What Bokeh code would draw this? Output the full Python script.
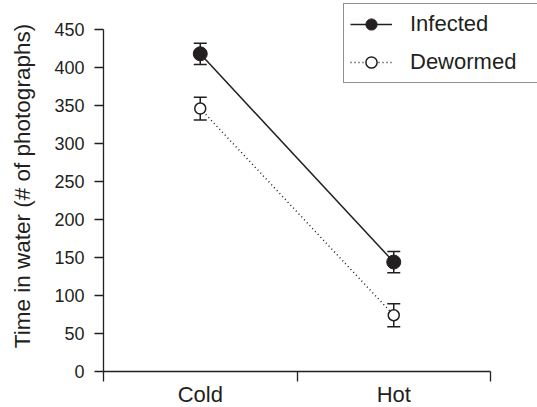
from bokeh.plotting import figure
from bokeh.models import (FixedTicker, Legend, LegendItem, Whisker, TeeHead,
                          ColumnDataSource, Range1d)
from bokeh.embed import file_html
from bokeh.resources import INLINE

# ---- data ----
categories = ["Cold", "Hot"]
series_names = ["Infected", "Dewormed"]
infected = [418, 144]
infected_err = [14, 14]
dewormed = [346, 74]
dewormed_err = [15, 15]
y_ticks = [0, 50, 100, 150, 200, 250, 300, 350, 400, 450]
y_label = "Time in water (# of photographs)"

INK = "#231f20"
FONT = "Liberation Sans"

x = [i + 0.5 for i in range(len(categories))]
bounds = list(range(len(categories) + 1))

# layout: axes occupy 387 x 342 px; the frame is extended to the right and
# top so the legend can sit where it does in the reference
AX_W, AX_H = 387, 342
FR_W, FR_H = 434, 371
x_end = len(categories) * FR_W / AX_W
y_end = y_ticks[-1] * FR_H / AX_H

p = figure(frame_width=FR_W, frame_height=FR_H,
           min_border_left=103, min_border_right=0,
           min_border_top=0, min_border_bottom=36,
           x_range=Range1d(0, x_end),
           y_range=Range1d(y_ticks[0], y_end),
           output_backend="svg", toolbar_location=None)
p.xgrid.visible = False
p.ygrid.visible = False
p.outline_line_color = None
p.background_fill_color = "white"
p.border_fill_color = "white"


def make_source(vals, errs):
    return ColumnDataSource(dict(
        x=x, y=vals,
        upper=[v + e for v, e in zip(vals, errs)],
        lower=[v - e for v, e in zip(vals, errs)]))


src_inf = make_source(infected, infected_err)
src_dew = make_source(dewormed, dewormed_err)

for src in (src_inf, src_dew):
    w = Whisker(base="x", upper="upper", lower="lower", source=src,
                dimension="height", line_color=INK, line_width=1.5,
                upper_head=TeeHead(size=13, line_color=INK, line_width=1.5),
                lower_head=TeeHead(size=13, line_color=INK, line_width=1.5),
                level="underlay")
    p.add_layout(w)

r_inf_line = p.line("x", "y", source=src_inf, line_color=INK, line_width=1.5)
r_dew_line = p.line("x", "y", source=src_dew, line_color=INK, line_width=1.5,
                    line_dash="1 3")
r_inf_pts = p.scatter("x", "y", source=src_inf, marker="circle", size=14,
                      fill_color=INK, line_color=INK, line_width=1)
r_dew_pts = p.scatter("x", "y", source=src_dew, marker="circle", size=11,
                      fill_color="white", line_color=INK, line_width=1.5)

legend = Legend(items=[
    LegendItem(label=series_names[0], renderers=[r_inf_line, r_inf_pts]),
    LegendItem(label=series_names[1], renderers=[r_dew_line, r_dew_pts]),
], location=(240, 288), orientation="vertical",
    padding=6, margin=0, spacing=10,
    glyph_width=42, glyph_height=28, label_standoff=18,
    label_width=123, label_height=28,
    label_text_font=FONT, label_text_font_size="22px", label_text_color=INK,
    border_line_color=INK, border_line_width=1.3,
    background_fill_color="white", background_fill_alpha=1.0)
p.add_layout(legend)

# x axis: boundary ticks, labels centred on categories
xa = p.xaxis[0]
xa.bounds = (0, len(categories))
xa.ticker = FixedTicker(ticks=x, minor_ticks=bounds)
xa.major_label_overrides = {xi: c for xi, c in zip(x, categories)}
xa.major_tick_out = 0
xa.major_tick_in = 0
xa.minor_tick_out = 10
xa.minor_tick_in = 0
xa.minor_tick_line_color = INK
xa.minor_tick_line_width = 1.3
xa.axis_line_color = INK
xa.axis_line_width = 1.3
xa.major_label_standoff = 0
xa.major_label_text_font = FONT
xa.major_label_text_font_size = "22px"
xa.major_label_text_color = INK

ya = p.yaxis[0]
ya.bounds = (y_ticks[0], y_ticks[-1])
ya.ticker = FixedTicker(ticks=y_ticks, minor_ticks=[])
ya.major_tick_out = 9
ya.major_tick_in = 0
ya.major_tick_line_color = INK
ya.major_tick_line_width = 1.3
ya.minor_tick_line_color = None
ya.axis_line_color = INK
ya.axis_line_width = 1.3
ya.major_label_standoff = 10
ya.major_label_text_font = FONT
ya.major_label_text_font_size = "18px"
ya.major_label_text_color = INK
ya.axis_label = y_label
ya.axis_label_text_font = FONT
ya.axis_label_text_font_size = "22.5px"
ya.axis_label_text_font_style = "normal"
ya.axis_label_text_color = INK
ya.axis_label_standoff = 16

open("out.html", "w").write(file_html(p, INLINE))
